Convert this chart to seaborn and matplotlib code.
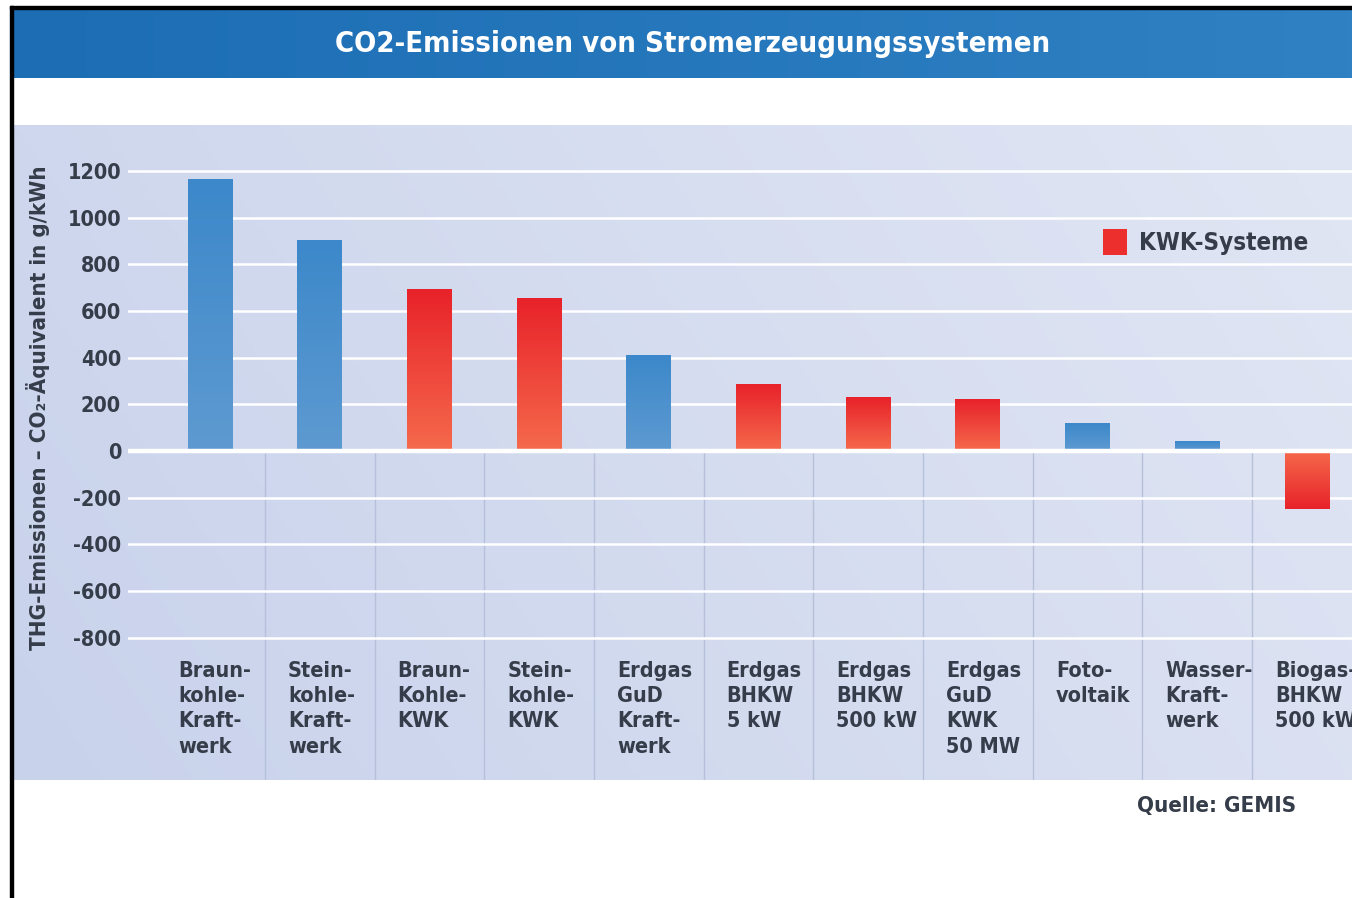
import numpy as np
import pandas as pd
import matplotlib
matplotlib.use("Agg")
import matplotlib.pyplot as plt
import seaborn as sns
from matplotlib.patches import Patch, Rectangle
from matplotlib.colors import to_rgb

# ---------------- data ----------------
categories = [
    "Braun-\nkohle-\nKraft-\nwerk",
    "Stein-\nkohle-\nKraft-\nwerk",
    "Braun-\nKohle-\nKWK",
    "Stein-\nkohle-\nKWK",
    "Erdgas\nGuD\nKraft-\nwerk",
    "Erdgas\nBHKW\n5 kW",
    "Erdgas\nBHKW\n500 kW",
    "Erdgas\nGuD\nKWK\n50 MW",
    "Foto-\nvoltaik",
    "Wasser-\nKraft-\nwerk",
    "Biogas-\nBHKW\n500 kW",
]
values = [1165, 900, 692, 652, 410, 283, 231, 219, 116, 42, -250]
is_kwk = [False, False, True, True, False, True, True, True, False, False, True]
yticks = [-800, -600, -400, -200, 0, 200, 400, 600, 800, 1000, 1200]
title_text = "CO2-Emissionen von Stromerzeugungssystemen"
ylabel_text = "THG-Emissionen – CO₂-Äquivalent in g/kWh"
legend_text = "KWK-Systeme"
source_text = "Quelle: GEMIS"

# ---------------- style ----------------
W, H = 1352, 898
sns.set_theme(style="white")
plt.rcParams["font.family"] = ["DejaVu Sans Condensed", "DejaVu Sans"]
plt.rcParams["font.stretch"] = "condensed"
TXT = "#363d4a"

fig = plt.figure(figsize=(W / 100, H / 100), dpi=100, facecolor="white")

def fx(px):
    return px / W

def fy(py):
    return 1 - py / H

# title bar (horizontal gradient)
tb = fig.add_axes([fx(13), fy(78), 1 - fx(13), (78 - 9) / H], zorder=0)
c0, c1 = np.array(to_rgb("#1c6db4")), np.array(to_rgb("#2f81c3"))
g = np.linspace(0, 1, 256)[None, :, None]
tb.imshow(c0 + (c1 - c0) * g, aspect="auto", extent=[0, 1, 0, 1])
tb.set_axis_off()
fig.text(fx(693), fy(44), title_text, color="white", fontsize=21,
         fontweight="bold", ha="center", va="center")

# panel background (gradient)
pa = fig.add_axes([fx(13), fy(780), 1 - fx(13), (780 - 125) / H], zorder=0)
gx = np.linspace(0, 1, 300)[None, :]
gy = np.linspace(0, 1, 200)[:, None]
t = np.clip(0.75 * gx + 0.25 * gy, 0, 1)[..., None]
p0, p1 = np.array(to_rgb("#c8d2eb")), np.array(to_rgb("#e1e6f4"))
pa.imshow(p0 + (p1 - p0) * t, aspect="auto", extent=[0, 1, 0, 1], origin="lower")
pa.set_axis_off()

# black frame lines
fig.patches.append(Rectangle((fx(10), 0), fx(3), fy(6), transform=fig.transFigure,
                             color="black", zorder=5))
fig.patches.append(Rectangle((fx(10), fy(9)), 1, 3 / H, transform=fig.transFigure,
                             color="black", zorder=5))

# ---------------- main axes ----------------
ax = fig.add_axes([fx(128), fy(780), 1 - fx(128), (780 - 125) / H], zorder=2)
ax.patch.set_alpha(0)

n = len(categories)
df = pd.DataFrame({
    "pos": [str(i) for i in range(n)],
    "value": values,
    "group": ["KWK" if k else "other" for k in is_kwk],
})
sns.barplot(data=df, x="pos", y="value", hue="group",
            palette={"KWK": "#ee3a32", "other": "#4a90cf"},
            dodge=False, width=0.41, legend=False, ax=ax, zorder=3,
            order=[str(i) for i in range(n)])

# gradient fill on bars
grad_cols = {
    "KWK": (np.array(to_rgb("#f56a4c")), np.array(to_rgb("#e8222a"))),
    "other": (np.array(to_rgb("#5e9ad1")), np.array(to_rgb("#3c88ca"))),
}
for patch in ax.patches:
    x0, y0 = patch.get_x(), patch.get_y()
    w, h = patch.get_width(), patch.get_height()
    if h == 0:
        continue
    ylo, yhi = min(y0, y0 + h), max(y0, y0 + h)
    fc = np.array(patch.get_facecolor()[:3])
    key = "KWK" if fc[0] > 0.7 else "other"
    cz, ct = grad_cols[key]
    ys = np.linspace(ylo, yhi, 128)
    tt = (np.abs(ys) / max(abs(ylo), abs(yhi)))[:, None, None]
    img = cz + (ct - cz) * tt
    ax.imshow(img, extent=[x0, x0 + w, ylo, yhi], origin="lower",
              aspect="auto", zorder=3.5, interpolation="bilinear")
    patch.set_edgecolor("none")

ymin, ymax = -1410, 1397
xmin, xmax = -0.7475, 10.41
ax.set_xlim(xmin, xmax)
ax.set_ylim(ymin, ymax)

# gridlines
for yt in yticks:
    ax.axhline(yt, color="white", lw=3.2 if yt == 0 else 1.8, zorder=2 if yt != 0 else 4)

# separators below zero
ax.vlines(np.arange(n - 1) + 0.5, ymin, 0, color="#b6c0da", lw=1.0, zorder=1)

ax.set_yticks(yticks)
ax.set_yticklabels([str(v) for v in yticks], fontsize=15.5, fontweight="bold", color=TXT)
ax.tick_params(axis="y", length=0, pad=5)
ax.set_xticks([])
ax.set_xlabel("")
ax.set_ylabel("")
for s in ax.spines.values():
    s.set_visible(False)

# category labels
for i, lab in enumerate(categories):
    ax.text(i - 0.29, -898, lab, ha="left", va="top", fontsize=15.5,
            fontweight="bold", color=TXT, linespacing=1.34, zorder=5)

# y label
fig.text(fx(38), fy(408), ylabel_text, rotation=90, ha="center", va="center",
         fontsize=16.0, fontweight="bold", color=TXT)

# legend
leg = fig.legend(handles=[Patch(facecolor="#ec2f2c", edgecolor="none", label=legend_text)],
                 loc="center left", bbox_to_anchor=(fx(1103), fy(242)), frameon=False,
                 handlelength=1.0, handleheight=1.3, handletextpad=0.5,
                 prop={"size": 17.4, "weight": "bold"}, borderaxespad=0, borderpad=0)
for tx in leg.get_texts():
    tx.set_color(TXT)

# source
fig.text(fx(1296), fy(806), source_text, ha="right", va="center", fontsize=16,
         color=TXT, fontweight="semibold")

fig.savefig("out.png", dpi=100, facecolor="white")
